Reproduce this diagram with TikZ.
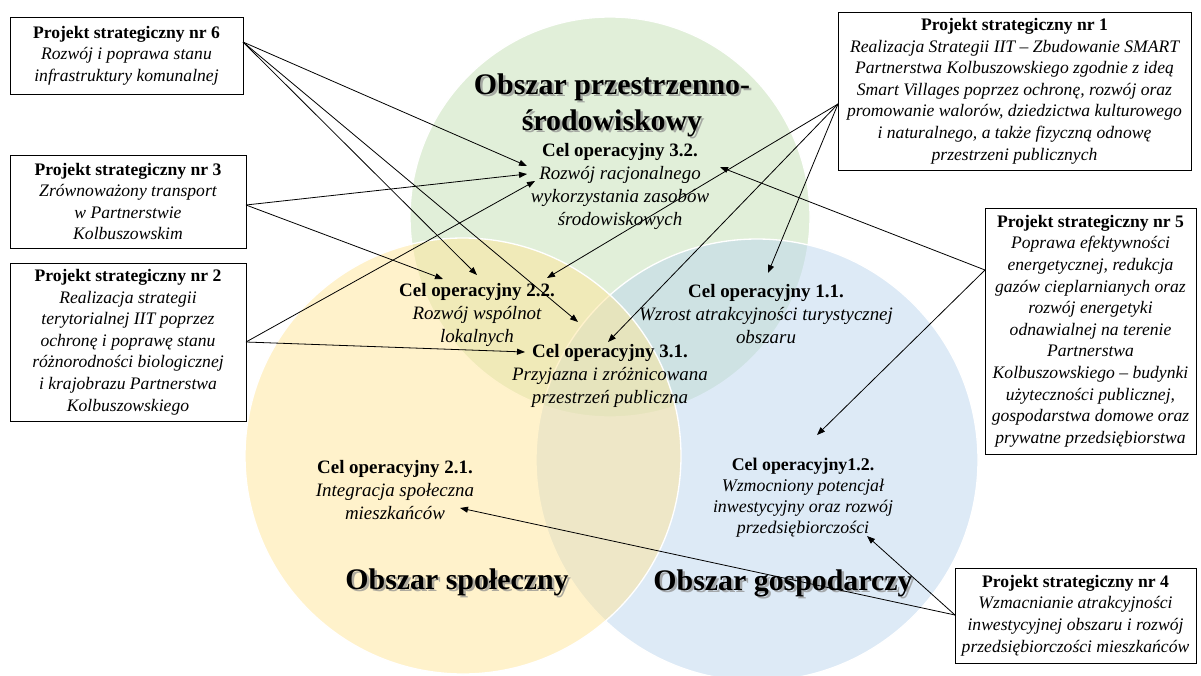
\documentclass[tikz,border=0pt]{standalone}
\usepackage{fontspec}
\setmainfont{Liberation Serif}
\usetikzlibrary{arrows.meta}
\definecolor{vgreen}{HTML}{C5E0B4}
\definecolor{vyellow}{HTML}{FFE699}
\definecolor{vblue}{HTML}{BDD7EE}
\begin{document}
\begin{tikzpicture}[x=0.75pt,y=-0.75pt,
  venn/.style={draw=white,line width=1pt,fill opacity=0.5},
  box/.style={draw=black,line width=0.75pt,fill=white,align=center,inner sep=0pt,
    font=\fontsize{13.2}{16.2}\selectfont\itshape},
  goal/.style={align=center,inner sep=0pt,font=\fontsize{14.2}{17.25}\selectfont\itshape},
  goalsm/.style={align=center,inner sep=0pt,font=\fontsize{13.4}{15.8}\selectfont\itshape},
  area/.style={align=center,inner sep=0pt,font=\fontsize{22.4}{27}\selectfont\bfseries},
  areashadow/.style={area,text=black!45,text opacity=0.7},
  arr/.style={-{Triangle[length=6pt,width=4.5pt]},line width=0.6pt}]
\useasboundingbox (0,0) rectangle (1201,675);
% Venn circles
\fill[white] (0,0) rectangle (1201,675);
\draw[venn,fill=vgreen] (610,217) circle[radius=150pt];
\draw[venn,fill=vblue] (757,460) circle[radius=165.75pt];
\draw[venn,fill=vyellow] (463,456) circle[radius=163.5pt];
% area titles
\node[areashadow] (tGs) at (614.5,107.5) {Obszar przestrzenno-\\środowiskowy};
\node[area] (tG) at (612,105) {Obszar przestrzenno-\\środowiskowy};
\node[areashadow] (tYs) at (459.5,584.5) {Obszar społeczny};
\node[area] (tY) at (457,582) {Obszar społeczny};
\node[areashadow] (tBs) at (785.5,585.5) {Obszar gospodarczy};
\node[area] (tB) at (783,583) {Obszar gospodarczy};
% goals
\node[goal] (g32) at (620,186) {\textbf{\upshape Cel operacyjny 3.2.}\\Rozwój racjonalnego\\wykorzystania zasobów\\środowiskowych};
\node[goal] (g22) at (477,315) {\textbf{\upshape Cel operacyjny 2.2.}\\Rozwój wspólnot\\lokalnych};
\node[goal] (g31) at (610,376) {\textbf{\upshape Cel operacyjny 3.1.}\\Przyjazna i zróżnicowana\\przestrzeń publiczna};
\node[goal] (g11) at (766,314) {\textbf{\upshape Cel operacyjny 1.1.}\\Wzrost atrakcyjności turystycznej\\obszaru};
\node[goal] (g21) at (395,490) {\textbf{\upshape Cel operacyjny 2.1.}\\Integracja społeczna\\mieszkańców};
\node[goalsm] (g12) at (803,498) {\textbf{\upshape Cel operacyjny1.2.}\\Wzmocniony potencjał\\inwestycyjny oraz rozwój\\przedsiębiorczości};
% project boxes
\node[box,minimum width=174.75pt,minimum height=57.75pt] (p6) at (126.5,55.5)
  {\textbf{\upshape Projekt strategiczny nr 6}\\Rozwój i poprawa stanu\\infrastruktury komunalnej};
\node[box,minimum width=177pt,minimum height=69.75pt] (p3) at (128,201.5)
  {\textbf{\upshape Projekt strategiczny nr 3}\\Zrównoważony transport\\w Partnerstwie\\Kolbuszowskim};
\node[box,minimum width=177pt,minimum height=118.5pt] (p2) at (128,342)
  {\textbf{\upshape Projekt strategiczny nr 2}\\Realizacja strategii\\terytorialnej IIT poprzez\\ochronę i poprawę stanu\\różnorodności biologicznej\\i krajobrazu Partnerstwa\\Kolbuszowskiego};
\node[box,minimum width=264.75pt,minimum height=118.5pt] (p1) at (1014.5,91)
  {\textbf{\upshape Projekt strategiczny nr 1}\\Realizacja Strategii IIT – Zbudowanie SMART\\Partnerstwa Kolbuszowskiego zgodnie z ideą\\Smart Villages poprzez ochronę, rozwój oraz\\promowanie walorów, dziedzictwa kulturowego\\i naturalnego, a także fizyczną odnowę\\przestrzeni publicznych};
\node[box,minimum width=158.25pt,minimum height=184.5pt] (p5) at (1090.5,331)
  {\textbf{\upshape Projekt strategiczny nr 5}\\Poprawa efektywności\\energetycznej, redukcja\\gazów cieplarnianych oraz\\rozwój energetyki\\odnawialnej na terenie\\Partnerstwa\\Kolbuszowskiego – budynki\\użyteczności publicznej,\\gospodarstwa domowe oraz\\prywatne przedsiębiorstwa};
\node[box,minimum width=180.75pt,minimum height=71.25pt] (p4) at (1075.5,615.5)
  {\textbf{\upshape Projekt strategiczny nr 4}\\Wzmacnianie atrakcyjności\\inwestycyjnej obszaru i rozwój\\przedsiębiorczości mieszkańców};
% connector start points
\coordinate (s6) at (243,42);
\coordinate (s3) at (246,205);
\coordinate (s2) at (246,342);
\coordinate (s1) at (838,104);
\coordinate (s5) at (985,270);
\coordinate (s4) at (955,615);
% connector end points
\coordinate (t32a) at (527,166);
\coordinate (t32b) at (527,174);
\coordinate (t32c) at (535,181);
\coordinate (t32d) at (720,167);
\coordinate (t22a) at (477,275);
\coordinate (t22b) at (443,279);
\coordinate (t22c) at (547,278);
\coordinate (t31a) at (578,322);
\coordinate (t31b) at (525,352);
\coordinate (t31c) at (608,342);
\coordinate (t11) at (768,273);
\coordinate (t12a) at (817,435);
\coordinate (t12b) at (867,536);
\coordinate (t21) at (460,508);
% connectors
\draw[arr] (s6) -- (t32a);
\draw[arr] (s6) -- (t22a);
\draw[arr] (s6) -- (t31a);
\draw[arr] (s3) -- (t32b);
\draw[arr] (s3) -- (t22b);
\draw[arr] (s2) -- (t32c);
\draw[arr] (s2) -- (t31b);
\draw[arr] (s1) -- (t22c);
\draw[arr] (s1) -- (t31c);
\draw[arr] (s1) -- (t11);
\draw[arr] (s5) -- (t32d);
\draw[arr] (s5) -- (t12a);
\draw[arr] (s4) -- (t21);
\draw[arr] (s4) -- (t12b);
\end{tikzpicture}
\end{document}
